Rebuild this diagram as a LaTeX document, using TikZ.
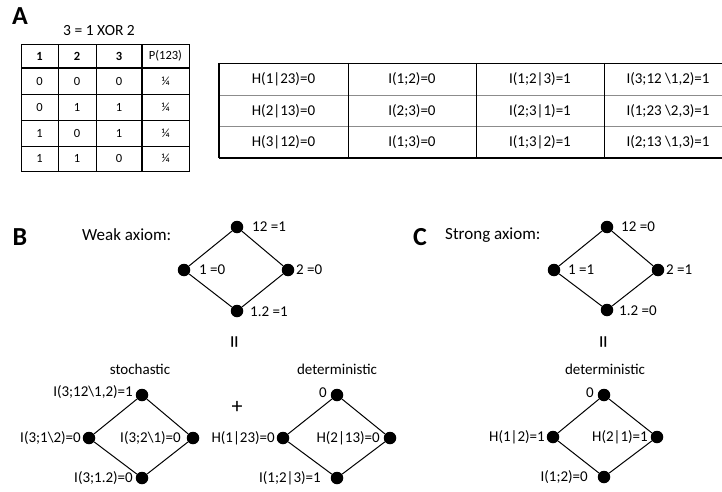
\documentclass[tikz,border=0pt]{standalone}
\usepackage{fontspec}
\setmainfont{Carlito}
\begin{document}
\begin{tikzpicture}[x=1pt,y=-1pt,
  every node/.style={font=\fontsize{15}{17}\selectfont, inner sep=1pt},
  panel/.style={font=\fontsize{26}{26}\selectfont\bfseries},
  small/.style={font=\fontsize{12.5}{14}\selectfont},
  smallb/.style={font=\fontsize{12.5}{14}\selectfont\bfseries},
  cell/.style={font=\fontsize{15}{17}\selectfont},
  dot/.style={circle, fill=black, minimum size=12.5pt, inner sep=0pt},
  lab/.style={font=\fontsize{15}{17}\selectfont, inner sep=1pt},
  edge/.style={draw=black, line width=1pt},
  grid/.style={draw=black, line width=0.7pt},
  thickline/.style={draw=black, line width=1.8pt},
  softline/.style={draw=black!45, line width=0.9pt},
  eqsign/.style={rotate=90, font=\fontsize{26}{26}\selectfont}
]
\useasboundingbox (0,0) rectangle (722,492);
\clip (0,0) rectangle (722,492);

% ---------- Panel A ----------
\node[panel] (pA) at (20,16) {A};
\node[font=\fontsize{15.5}{17}\selectfont] (xor) at (99,31) {3 = 1 XOR 2};

% small table grid
\draw[grid] (21,44.5) rectangle (189,171);
\draw[grid] (21,94) -- (189,94);
\draw[grid] (21,120) -- (189,120);
\draw[grid] (21,146) -- (189,146);
\draw[line width=1.3pt] (21,68) -- (189,68);
\draw[grid] (58,44.5) -- (58,171);
\draw[grid] (96,44.5) -- (96,171);
\draw[thickline] (142,44.5) -- (142,171);

\node[smallb] (h1) at (39.5,56) {1};
\node[smallb] (h2) at (77,56) {2};
\node[smallb] (h3) at (119,56) {3};
\node[small] (hp) at (165.5,56) {P(123)};

\node[small] (a11) at (39.5,81) {0};
\node[small] (a12) at (77,81) {0};
\node[small] (a13) at (119,81) {0};
\node[small] (a14) at (165.5,81) {¼};
\node[small] (a21) at (39.5,107) {0};
\node[small] (a22) at (77,107) {1};
\node[small] (a23) at (119,107) {1};
\node[small] (a24) at (165.5,107) {¼};
\node[small] (a31) at (39.5,133) {1};
\node[small] (a32) at (77,133) {0};
\node[small] (a33) at (119,133) {1};
\node[small] (a34) at (165.5,133) {¼};
\node[small] (a41) at (39.5,158.5) {1};
\node[small] (a42) at (77,158.5) {1};
\node[small] (a43) at (119,158.5) {0};
\node[small] (a44) at (165.5,158.5) {¼};

% big table grid
\draw[grid] (219,63) -- (740,63);
\draw[softline] (219,95) -- (740,95);
\draw[softline] (219,126.7) -- (740,126.7);
\draw[thickline] (219,158) -- (740,158);
\draw[thickline] (219,63) -- (219,158);
\draw[grid] (348,63) -- (348,158);
\draw[grid] (476,63) -- (476,158);
\draw[grid] (604,63) -- (604,158);
\draw[grid] (732,63) -- (732,158);

\node[cell] (b11) at (283.5,79) {H(1|23)=0};
\node[cell] (b12) at (412,79) {I(1;2)=0};
\node[cell] (b13) at (540,79) {I(1;2|3)=1};
\node[cell] (b14) at (668,79) {I(3;12 \textbackslash1,2)=1};
\node[cell] (b21) at (283.5,111) {H(2|13)=0};
\node[cell] (b22) at (412,111) {I(2;3)=0};
\node[cell] (b23) at (540,111) {I(2;3|1)=1};
\node[cell] (b24) at (668,111) {I(1;23 \textbackslash2,3)=1};
\node[cell] (b31) at (283.5,142) {H(3|12)=0};
\node[cell] (b32) at (412,142) {I(1;3)=0};
\node[cell] (b33) at (540,142) {I(1;3|2)=1};
\node[cell] (b34) at (668,142) {I(2;13 \textbackslash1,3)=1};

% ---------- Panel B ----------
\node[panel] (pB) at (20,237) {B};
\node[anchor=west, font=\fontsize{17}{19}\selectfont] (weak) at (81,235) {Weak axiom:};

\node[dot] (wt) at (237,227) {};
\node[dot] (wl) at (184,270) {};
\node[dot] (wr) at (288,270) {};
\node[dot] (wb) at (237,311) {};
\draw[edge] (wt) -- (wl) -- (wb) -- (wr) -- (wt);
\node[lab, anchor=west] (wtl) at (251,227) {12 =1};
\node[lab, anchor=west] (wll) at (198,270) {1 =0};
\node[lab, anchor=west] (wrl) at (295,270) {2 =0};
\node[lab, anchor=west] (wbl) at (249,312) {1.2 =1};

\node[eqsign] (eqB) at (237,342) {=};

% stochastic
\node (stoch) at (140,369) {stochastic};
\node[dot] (st) at (142,395) {};
\node[dot] (sl) at (89,438) {};
\node[dot] (sr) at (193,438) {};
\node[dot] (sb) at (142,478) {};
\draw[edge] (st) -- (sl) -- (sb) -- (sr) -- (st);
\node[lab, anchor=east] (stl) at (134,392) {I(3;12\textbackslash1,2)=1};
\node[lab, anchor=east] (sll) at (82,438) {I(3;1\textbackslash2)=0};
\node[lab, anchor=east] (srl) at (182,438) {I(3;2\textbackslash1)=0};
\node[lab, anchor=east] (sbl) at (134,478) {I(3;1.2)=0};

\node[font=\fontsize{22}{22}\selectfont] (plus) at (237,407) {+};

% deterministic (B)
\node (detB) at (337,369) {deterministic};
\node[dot] (dt) at (337,395) {};
\node[dot] (dl) at (283,438) {};
\node[dot] (dr) at (390,438) {};
\node[dot] (db) at (337,478) {};
\draw[edge] (dt) -- (dl) -- (db) -- (dr) -- (dt);
\node[lab, anchor=east] (dtl) at (328,393) {0};
\node[lab, anchor=east] (dll) at (276,438) {H(1|23)=0};
\node[lab, anchor=east] (drl) at (381,438) {H(2|13)=0};
\node[lab, anchor=east] (dbl) at (322,478) {I(1;2|3)=1};

% ---------- Panel C ----------
\node[panel] (pC) at (420,237) {C};
\node[anchor=west, font=\fontsize{17}{19}\selectfont] (strong) at (444,235) {Strong axiom:};

\node[dot] (ct) at (607,227) {};
\node[dot] (cl) at (554,270) {};
\node[dot] (cr) at (658,270) {};
\node[dot] (cb) at (607,310) {};
\draw[edge] (ct) -- (cl) -- (cb) -- (cr) -- (ct);
\node[lab, anchor=west] (ctl) at (620,227) {12 =0};
\node[lab, anchor=west] (cll) at (567,270) {1 =1};
\node[lab, anchor=west] (crl) at (665,270) {2 =1};
\node[lab, anchor=west] (cbl) at (618,311) {1.2 =0};

\node[eqsign] (eqC) at (606,342) {=};

\node (detC) at (605,369) {deterministic};
\node[dot] (et) at (604,395) {};
\node[dot] (el) at (553,437) {};
\node[dot] (er) at (657,437) {};
\node[dot] (eb) at (604,477) {};
\draw[edge] (et) -- (el) -- (eb) -- (er) -- (et);
\node[lab, anchor=east] (etl) at (595,393) {0};
\node[lab, anchor=east] (ell) at (546,437) {H(1|2)=1};
\node[lab, anchor=east] (erl) at (649,437) {H(2|1)=1};
\node[lab, anchor=east] (ebl) at (589,477) {I(1;2)=0};
\end{tikzpicture}
\end{document}
